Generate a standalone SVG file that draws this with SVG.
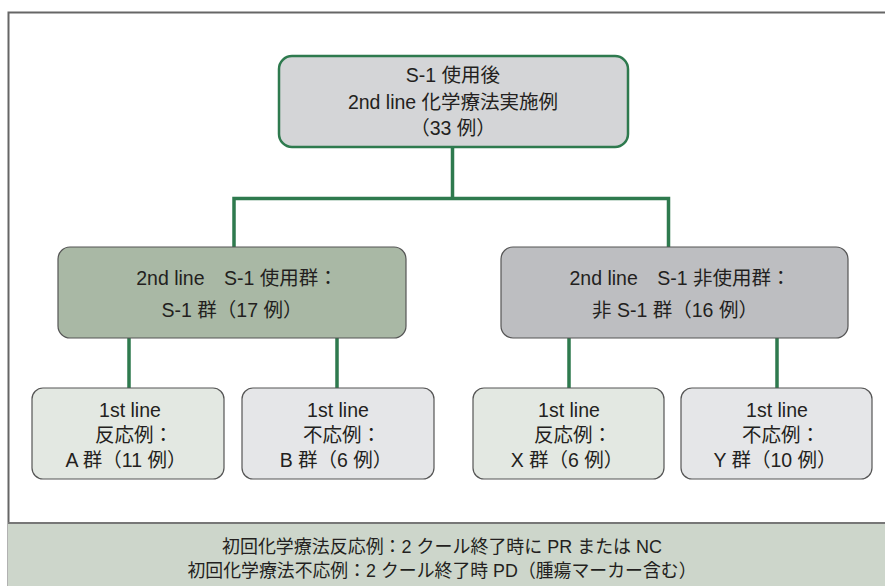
<svg xmlns="http://www.w3.org/2000/svg" width="885" height="586" viewBox="0 0 885 586">
<style>
text{font-family:"Liberation Sans","Noto Sans CJK JP",sans-serif;font-size:19.5px;fill:#231f20;text-anchor:middle}
.ft{font-size:18.5px}
.conn{stroke:#2e7a4e;stroke-width:3.5;fill:none}
.mid{stroke:#555;stroke-width:1.2}
.bot{stroke:#555;stroke-width:1.2}
</style>
<rect x="0" y="0" width="885" height="586" fill="#fff"/>
<path d="M8.5 586 V12.5 H885" fill="none" stroke="#666" stroke-width="2"/>
<g id="footer">
<rect x="8" y="523" width="877" height="63" fill="#cdd6cb"/>
<line x1="8" y1="523" x2="885" y2="523" stroke="#777" stroke-width="2"/>
<text class="ft" x="442" y="553" textLength="440" lengthAdjust="spacingAndGlyphs">初回化学療法反応例：2 クール終了時に PR または NC</text>
<text class="ft" x="442" y="577" textLength="509" lengthAdjust="spacingAndGlyphs">初回化学療法不応例：2 クール終了時 PD（腫瘍マーカー含む）</text>
</g>
<g id="connectors">
<path class="conn" d="M452.5 147 V198.5 M234 248 V198.5 H668.5 V248"/>
<path class="conn" d="M129 338 V388 M337 338 V388 M569 338 V388 M777 338 V388"/>
</g>
<g id="top">
<rect x="279" y="56" width="349" height="91" rx="13" fill="#d4d5d7" stroke="#2e7a4e" stroke-width="2.5"/>
<text x="453" y="82">S-1 使用後</text>
<text x="453" y="109">2nd line 化学療法実施例</text>
<text x="453" y="135">（33 例）</text>
</g>
<g id="s1">
<rect x="58" y="247" width="348" height="91" rx="12" fill="#a9b8a5" class="mid"/>
<text x="237" y="285">2nd line　S-1 使用群：</text>
<text x="232" y="317">S-1 群（17 例）</text>
</g>
<g id="nons1">
<rect x="501" y="247" width="347" height="91" rx="12" fill="#bdbec1" class="mid"/>
<text x="680" y="285">2nd line　S-1 非使用群：</text>
<text x="675" y="317">非 S-1 群（16 例）</text>
</g>
<g id="a">
<rect x="32" y="388" width="192" height="91" rx="11" fill="#e3e8e2" class="bot"/>
<text x="130" y="417">1st line</text>
<text x="134" y="442">反応例：</text>
<text x="126" y="467">A 群（11 例）</text>
</g>
<g id="b">
<rect x="242" y="388" width="192" height="91" rx="11" fill="#e5e6e8" class="bot"/>
<text x="338" y="417">1st line</text>
<text x="342" y="442">不応例：</text>
<text x="336" y="467">B 群（6 例）</text>
</g>
<g id="x">
<rect x="473" y="388" width="191" height="91" rx="11" fill="#e3e8e2" class="bot"/>
<text x="569" y="417">1st line</text>
<text x="573" y="442">反応例：</text>
<text x="567" y="467">X 群（6 例）</text>
</g>
<g id="y">
<rect x="681" y="388" width="191" height="91" rx="11" fill="#e5e6e8" class="bot"/>
<text x="777" y="417">1st line</text>
<text x="781" y="442">不応例：</text>
<text x="775" y="467">Y 群（10 例）</text>
</g>
</svg>
